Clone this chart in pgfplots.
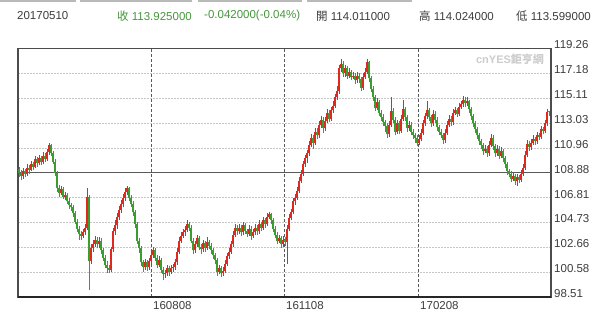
\documentclass[border=0pt]{standalone}
\usepackage{pgfplots}
\pgfplotsset{compat=1.18}
\usepackage{pgfplotstable}
\usepackage{fontspec}
\setmainfont{Liberation Sans}
\newfontfamily\cjk{Noto Sans CJK TC}
\definecolor{cUp}{RGB}{222,40,32}
\definecolor{cDn}{RGB}{56,158,46}
\definecolor{txt}{RGB}{60,60,60}
\definecolor{hgreen}{RGB}{70,150,60}
\pgfplotstableread{
x op hi lo cl
19 109.2 109.4 108.5 108.9
21 108.9 109.1 108.3 108.6
23 108.6 109.3 108.4 109.0
25 109.0 109.2 108.5 108.8
27 108.8 109.6 108.6 109.3
29 109.3 109.5 108.8 109.1
31 109.1 109.9 109.0 109.6
33 109.6 109.8 109.1 109.4
35 109.4 110.3 109.3 110.0
37 110.0 110.2 109.4 109.7
39 109.7 110.4 109.5 110.1
41 110.1 110.3 109.5 109.8
43 109.8 110.6 109.6 110.3
45 110.3 110.5 109.8 110.0
47 110.0 110.9 109.9 110.6
49 110.6 111.4 110.4 111.2
51 111.2 111.3 110.3 110.5
53 110.5 110.7 109.6 109.8
55 109.8 110.0 108.6 108.9
57 108.9 109.0 107.3 107.6
59 107.6 107.9 106.9 107.2
61 107.2 107.8 107.0 107.5
63 107.5 107.7 106.7 106.9
65 106.9 107.3 106.6 107.0
67 107.0 107.2 106.3 106.5
69 106.5 106.8 105.9 106.2
71 106.2 106.4 105.7 106.0
73 106.0 106.2 105.2 105.5
75 105.5 105.7 104.6 104.8
77 104.8 105.0 103.9 104.2
79 104.2 104.4 103.3 103.8
81 103.8 104.0 103.3 103.6
83 103.6 104.2 103.4 103.9
85 103.9 104.6 103.7 104.3
87 104.3 107.6 104.1 106.9
89 106.9 107.0 99.1 101.5
91 101.5 102.9 101.3 102.6
93 102.6 103.3 102.3 102.9
95 102.9 103.6 102.7 103.3
97 103.3 103.5 102.6 102.9
99 102.9 103.5 102.6 103.2
101 103.2 103.4 102.1 102.4
103 102.4 102.6 101.5 101.8
105 101.8 102.0 100.9 101.2
107 101.2 101.5 100.5 100.9
109 100.9 101.2 100.5 100.8
111 100.8 102.7 100.6 102.5
113 102.5 104.3 102.3 104.0
115 104.0 104.9 103.7 104.5
117 104.5 105.5 104.2 105.2
119 105.2 106.1 104.9 105.8
121 105.8 106.6 105.5 106.3
123 106.3 107.1 106.0 106.8
125 106.8 107.6 106.5 107.3
127 107.3 107.8 107.0 107.6
129 107.6 107.7 106.5 106.8
131 106.8 107.0 106.0 106.3
133 106.3 106.5 105.3 105.6
135 105.6 105.8 104.3 104.6
137 104.6 104.8 102.9 103.2
139 103.2 103.4 102.2 102.6
141 102.6 102.8 101.1 101.4
143 101.4 101.6 100.6 101.0
145 101.0 101.7 100.8 101.4
147 101.4 101.6 100.7 101.0
149 101.0 101.8 100.8 101.5
151 101.5 102.3 101.3 102.0
153 102.0 102.7 101.8 102.4
155 102.4 102.6 101.5 101.8
157 101.8 102.0 100.9 101.2
159 101.2 101.9 101.0 101.6
161 101.6 101.8 100.5 100.8
163 100.8 101.0 99.9 100.4
165 100.4 100.8 100.1 100.5
167 100.5 101.2 100.3 100.9
169 100.9 101.1 100.3 100.6
171 100.6 101.2 100.4 100.9
173 100.9 101.3 100.6 101.0
175 101.0 101.7 100.8 101.4
177 101.4 102.6 101.2 102.3
179 102.3 103.5 102.1 103.2
181 103.2 103.9 103.0 103.6
183 103.6 104.2 103.4 103.9
185 103.9 104.4 103.6 104.1
187 104.1 104.9 103.9 104.6
189 104.6 104.8 104.0 104.3
191 104.3 104.5 103.0 103.2
193 103.2 103.4 102.1 102.4
195 102.4 103.2 102.2 102.9
197 102.9 103.7 102.7 103.4
199 103.4 103.6 102.4 102.7
201 102.7 102.9 102.1 102.5
203 102.5 103.3 102.3 103.0
205 103.0 103.2 102.3 102.6
207 102.6 103.5 102.4 103.1
209 103.1 103.3 102.5 102.8
211 102.8 103.0 102.1 102.4
213 102.4 102.6 101.7 102.0
215 102.0 102.2 101.3 101.6
217 101.6 101.8 100.3 100.6
219 100.6 101.2 100.4 100.9
221 100.9 101.1 100.2 100.5
223 100.5 101.0 100.3 100.7
225 100.7 101.6 100.5 101.3
227 101.3 102.2 101.1 101.9
229 101.9 102.6 101.7 102.3
231 102.3 103.2 102.1 102.9
233 102.9 104.0 102.7 103.7
235 103.7 104.6 103.5 104.3
237 104.3 104.5 103.7 104.0
239 104.0 104.6 103.8 104.3
241 104.3 104.5 103.6 103.9
243 103.9 104.8 103.7 104.5
245 104.5 104.7 103.8 104.0
247 104.0 104.2 103.5 103.8
249 103.8 104.5 103.6 104.2
251 104.2 104.4 103.3 103.6
253 103.6 104.2 103.4 103.9
255 103.9 104.6 103.7 104.3
257 104.3 104.5 103.7 104.0
259 104.0 104.9 103.8 104.6
261 104.6 104.8 104.0 104.3
263 104.3 105.2 104.1 104.9
265 104.9 105.1 104.3 104.6
267 104.6 105.5 104.4 105.2
269 105.2 105.6 105.0 105.4
271 105.4 105.5 104.6 104.9
273 104.9 105.1 103.9 104.2
275 104.2 104.4 103.4 103.7
277 103.7 103.9 102.9 103.2
279 103.2 103.7 103.0 103.4
281 103.4 103.6 102.6 102.9
283 102.9 103.6 102.7 103.3
285 103.3 103.5 102.8 103.1
287 103.1 104.5 101.3 104.2
289 104.2 105.4 104.0 105.1
291 105.1 105.9 104.9 105.6
293 105.6 106.8 105.4 106.5
295 106.5 107.1 106.2 106.8
297 106.8 107.7 106.6 107.4
299 107.4 108.5 107.2 108.2
301 108.2 109.1 108.0 108.8
303 108.8 109.9 108.6 109.6
305 109.6 110.4 109.4 110.1
307 110.1 110.8 109.7 110.5
309 110.5 111.5 110.3 111.2
311 111.2 112.1 111.0 111.8
313 111.8 112.0 110.9 111.4
315 111.4 112.6 111.2 112.3
317 112.3 112.6 111.7 112.0
319 112.0 113.2 111.8 112.9
321 112.9 113.6 112.6 113.3
323 113.3 113.5 112.2 112.6
325 112.6 113.5 112.4 113.2
327 113.2 114.2 113.0 113.9
329 113.9 114.1 113.1 113.4
331 113.4 114.4 113.2 114.1
333 114.1 114.9 113.9 114.5
335 114.5 115.5 114.3 115.2
337 115.2 116.1 115.0 115.7
339 115.7 117.9 115.5 117.6
341 117.6 118.4 117.3 118.0
343 118.0 118.2 116.9 117.2
345 117.2 117.9 116.9 117.6
347 117.6 117.8 116.7 117.0
349 117.0 117.6 116.8 117.3
351 117.3 117.5 116.6 116.9
353 116.9 117.3 116.7 117.0
355 117.0 117.2 116.3 116.6
357 116.6 117.3 116.4 117.0
359 117.0 117.2 116.4 116.7
361 116.7 116.9 115.7 116.0
363 116.0 117.2 115.8 116.9
365 116.9 117.6 116.7 117.3
367 117.3 118.4 117.1 118.1
369 118.1 118.2 116.5 116.8
371 116.8 117.0 115.6 115.9
373 115.9 116.1 114.9 115.2
375 115.2 115.4 114.0 114.3
377 114.3 115.1 114.1 114.8
379 114.8 115.0 113.6 113.9
381 113.9 114.1 113.2 113.5
383 113.5 113.8 112.8 113.1
385 113.1 113.3 112.3 112.8
387 112.8 113.0 111.8 112.1
389 112.1 113.2 111.9 112.9
391 112.9 115.2 112.7 114.0
393 114.0 114.3 113.0 113.3
395 113.3 113.5 112.0 112.3
397 112.3 113.3 112.1 113.0
399 113.0 113.2 112.1 112.4
401 112.4 113.7 112.2 113.4
403 113.4 115.0 113.2 114.2
405 114.2 114.4 113.2 113.5
407 113.5 113.7 112.3 112.6
409 112.6 113.2 112.4 112.9
411 112.9 113.1 112.0 112.3
413 112.3 112.5 111.7 112.0
415 112.0 112.2 111.4 111.8
417 111.8 112.0 111.1 111.4
419 111.4 112.0 111.2 111.7
421 111.7 112.5 111.5 112.2
423 112.2 113.3 112.0 113.0
425 113.0 113.9 112.8 113.6
427 113.6 114.9 113.4 114.1
429 114.1 114.3 113.2 113.5
431 113.5 113.7 112.7 113.0
433 113.0 114.1 112.8 113.8
435 113.8 114.0 113.0 113.3
437 113.3 113.5 112.4 112.7
439 112.7 112.9 112.0 112.3
441 112.3 112.5 111.8 112.0
443 112.0 112.2 111.3 111.6
445 111.6 112.5 111.4 112.2
447 112.2 113.2 112.0 112.9
449 112.9 113.7 112.7 113.4
451 113.4 113.6 112.8 113.1
453 113.1 114.2 112.9 113.9
455 113.9 114.4 113.7 114.1
457 114.1 114.3 113.5 113.8
459 113.8 114.7 113.6 114.4
461 114.4 114.9 114.2 114.6
463 114.6 115.3 114.4 115.0
465 115.0 115.2 114.4 114.7
467 114.7 115.2 114.5 114.9
469 114.9 115.0 113.9 114.2
471 114.2 114.4 113.3 113.6
473 113.6 113.8 112.7 113.0
475 113.0 113.2 112.2 112.5
477 112.5 112.7 111.7 112.0
479 112.0 112.2 111.2 111.5
481 111.5 111.7 110.9 111.2
483 111.2 111.4 110.4 110.7
485 110.7 111.2 110.5 110.9
487 110.9 111.1 110.2 110.5
489 110.5 111.5 110.3 111.2
491 111.2 112.1 111.0 111.8
493 111.8 112.0 110.8 111.1
495 111.1 111.3 110.2 110.5
497 110.5 111.2 110.3 110.9
499 110.9 111.1 110.0 110.3
501 110.3 111.0 110.1 110.7
503 110.7 110.9 109.8 110.1
505 110.1 110.3 109.3 109.6
507 109.6 109.8 108.7 109.0
509 109.0 109.2 108.5 108.8
511 108.8 109.0 108.1 108.4
513 108.4 108.9 108.2 108.6
515 108.6 108.8 107.9 108.2
517 108.2 108.8 107.8 108.5
519 108.5 108.7 108.0 108.3
521 108.3 109.1 108.1 108.8
523 108.8 109.6 108.6 109.3
525 109.3 110.7 109.1 110.4
527 110.4 111.6 110.2 111.3
529 111.3 111.5 110.7 111.0
531 111.0 111.7 110.8 111.4
533 111.4 112.0 111.2 111.7
535 111.7 111.9 111.2 111.5
537 111.5 112.3 111.3 112.0
539 112.0 112.2 111.6 111.9
541 111.9 112.8 111.7 112.5
543 112.5 112.7 112.1 112.4
545 112.4 113.3 112.2 113.0
547 113.0 114.2 112.8 113.967
549 114.011 114.024 113.599 113.925
}\data
\begin{document}
\begin{tikzpicture}[x=1bp,y=1bp]
\useasboundingbox (0,0) rectangle (600,318);
% header separators
\foreach \a/\b in {0/76,80/192,198/302,307/412}{
  \draw[gray!55, line width=2bp] (\a,317) -- (\b,317);}
\fontsize{11.5bp}{13bp}\selectfont
\node[anchor=west, inner sep=0pt, text=txt] at (17,302) {20170510};
\node[anchor=west, inner sep=0pt, text=hgreen] at (117,302) {{\cjk 收} 113.925000};
\node[anchor=west, inner sep=0pt, text=hgreen] at (204,302) {-0.042000(-0.04\%)};
\node[anchor=west, inner sep=0pt, text=txt] at (316,302) {{\cjk 開} 114.011000};
\node[anchor=west, inner sep=0pt, text=txt] at (419,302) {{\cjk 高} 114.024000};
\node[anchor=west, inner sep=0pt, text=txt] at (516,302) {{\cjk 低} 113.599000};
\begin{axis}[
  at={(18bp,21bp)}, anchor=south west,
  scale only axis, width=533bp, height=248.5bp,
  xmin=18, xmax=551, ymin=98.51, ymax=119.26,
  axis line style={draw=black!70, line width=1.1bp},
  xtick={151,284,418}, xticklabels={160808,161108,170208},
  ytick={98.51,100.585,102.66,104.735,106.81,108.885,110.96,113.035,115.11,117.185,119.26},
  yticklabels={98.51,100.58,102.66,104.73,106.81,108.88,110.96,113.03,115.11,117.18,119.26},
  yticklabel pos=right,
  major tick length=0pt,
  tick label style={font=\fontsize{11.5bp}{13bp}\selectfont, text=txt},
  xticklabel style={anchor=north west, inner sep=0pt, xshift=2bp, yshift=-4bp},
  yticklabel style={anchor=west, inner sep=0pt, xshift=3bp, yshift=3.5bp},
  xmajorgrids, ymajorgrids,
  x grid style={black!65, line width=1bp, dash pattern=on 3bp off 2bp},
  y grid style={gray!45, line width=0.8bp, dash pattern=on 1.5bp off 1.5bp},
  restrict y to domain=90:130,
  clip=true,
]
\draw[black!65, line width=1.3bp] (axis cs:18,108.885) -- (axis cs:551,108.885);
% up wicks
\addplot[draw=cUp, color=cUp, line width=0.9bp, -, quiver={u value=0, v={\thisrow{hi}-\thisrow{lo}}}]
  table[x=x, y expr={\thisrow{cl}>\thisrow{op} ? \thisrow{lo} : -1000}] {\data};
% up bodies
\addplot[draw=cUp, color=cUp, line width=2bp, -, quiver={u value=0, v={\thisrow{cl}-\thisrow{op}}}]
  table[x=x, y expr={\thisrow{cl}>\thisrow{op} ? \thisrow{op} : -1000}] {\data};
% down wicks
\addplot[draw=cDn, color=cDn, line width=0.9bp, -, quiver={u value=0, v={\thisrow{hi}-\thisrow{lo}}}]
  table[x=x, y expr={\thisrow{cl}>\thisrow{op} ? -1000 : \thisrow{lo}}] {\data};
% down bodies
\addplot[draw=cDn, color=cDn, line width=2bp, -, quiver={u value=0, v={\thisrow{op}-\thisrow{cl}}}]
  table[x=x, y expr={\thisrow{cl}>\thisrow{op} ? -1000 : \thisrow{cl}}] {\data};
\end{axis}
\draw[black!85, line width=2bp] (18,21) -- (551,21);
\node[anchor=center, inner sep=0pt, text=black!20, font=\fontsize{11bp}{13bp}\selectfont\bfseries] at (510,259) {cnYES{\cjk 鉅亨網}};
\end{tikzpicture}
\end{document}
